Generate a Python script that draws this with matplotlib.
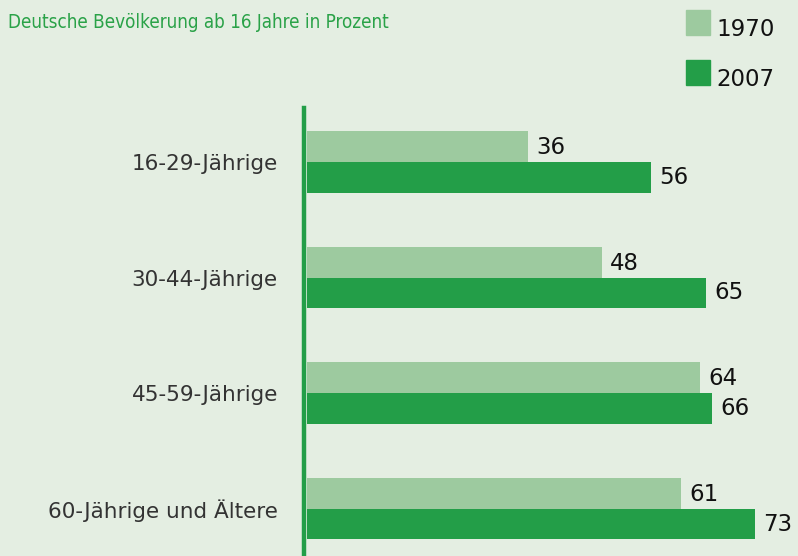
import matplotlib.pyplot as plt

# data
groups = ['16-29-Jährige', '30-44-Jährige', '45-59-Jährige', '60-Jährige und Ältere']
years = ['1970', '2007']
vals1970 = [36, 48, 64, 61]
vals2007 = [56, 65, 66, 73]

bgCol = '#e4eee2'
lightCol = '#9dca9f'
darkCol = '#239e48'

fig = plt.figure(figsize=(7.98, 5.56), dpi=100)
fig.patch.set_facecolor(bgCol)

# axes placed in pixels: left 307, top 108, bottom 556
W, H = 798, 556
ax = fig.add_axes([307 / W, 0, 491 / W, (556 - 108) / H])
ax.set_facecolor(bgCol)

barH = 0.268
ypos = list(range(len(groups)))
ax.barh([y - barH / 2 for y in ypos], vals1970, height=barH, color=lightCol)
ax.barh([y + barH / 2 for y in ypos], vals2007, height=barH, color=darkCol)

for y, v in zip(ypos, vals1970):
    ax.annotate(str(v), (v, y - barH / 2), xytext=(6, -1), textcoords='offset points',
                va='center', ha='left', fontsize=16.5, color='#111111')
for y, v in zip(ypos, vals2007):
    ax.annotate(str(v), (v, y + barH / 2), xytext=(6, 0), textcoords='offset points',
                va='center', ha='left', fontsize=16.5, color='#111111')

ax.set_xlim(0, 80)
ax.set_ylim(3.411, -0.4675)
ax.set_yticks(ypos)
ax.set_yticklabels(groups)
ax.tick_params(axis='y', length=0, pad=19, labelsize=15.5, labelcolor='#333333')
ax.set_xticks([])

for s in ['top', 'right', 'bottom']:
    ax.spines[s].set_visible(False)
ax.spines['left'].set_color(darkCol)
ax.spines['left'].set_linewidth(3.2)
ax.spines['left'].set_position(('outward', 2))

fig.text(8 / W, 1 - 22 / H, 'Deutsche Bevölkerung ab 16 Jahre in Prozent',
         fontsize=13.5, family='DejaVu Sans', stretch='condensed',
         color='#2aa248', va='center', ha='left')

# legend drawn by hand
for i, (lab, col) in enumerate(zip(years, [lightCol, darkCol])):
    top = 10 + 50 * i
    fig.patches.append(plt.Rectangle((686 / W, 1 - (top + 25) / H), 24 / W, 25 / H,
                                     transform=fig.transFigure, color=col))
    fig.text(716 / W, 1 - (top + 19) / H, lab, fontsize=16.5, color='#111111',
             va='center', ha='left')

fig.savefig('out.png', dpi=100, facecolor=bgCol)
